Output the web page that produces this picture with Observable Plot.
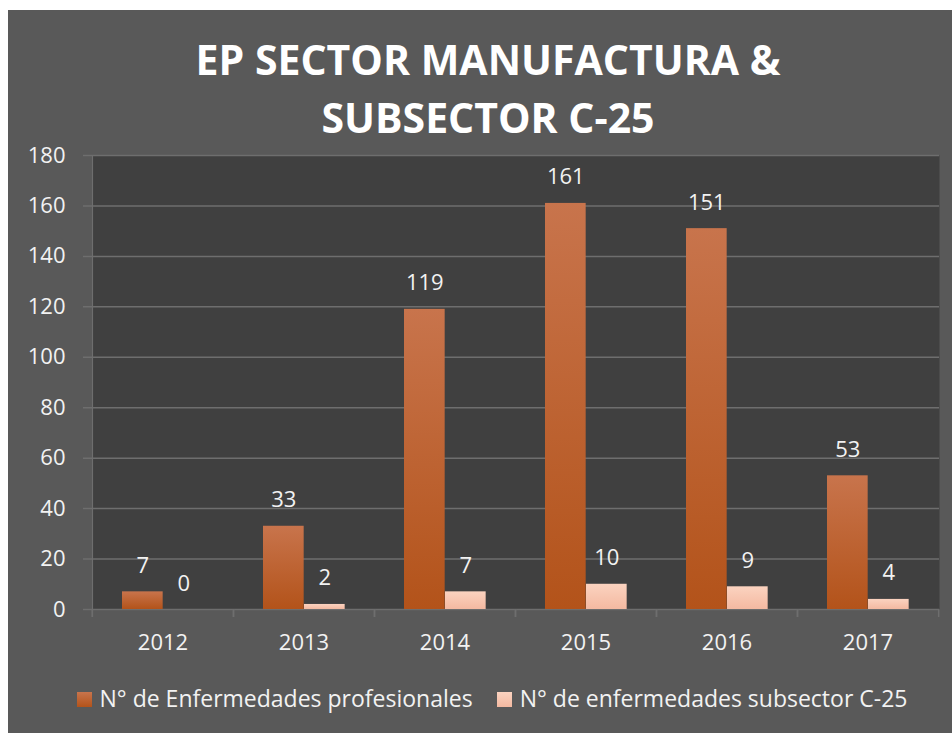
<!DOCTYPE html>
<html>
<head>
<meta charset="utf-8">
<script src="https://cdn.jsdelivr.net/npm/d3@7"></script>
<script src="https://cdn.jsdelivr.net/npm/@observablehq/plot@0.6"></script>
<style>
  html, body { margin: 0; padding: 0; background: #ffffff; }
  #card { position: absolute; left: 8px; top: 10px; width: 944px; height: 723px; background: #595959; font-family: "Open Sans", sans-serif; color: #f2f2f2; overflow: hidden; }
  #title { position: absolute; left: 8px; top: 20px; width: 944px; text-align: center; font-weight: bold; font-size: 41px; line-height: 58px; color: #ffffff; }
  #chart { position: absolute; left: 0; top: 130px; }
  #legend { position: absolute; left: 12px; top: 673px; width: 944px; display: flex; justify-content: center; align-items: center; font-size: 23px; line-height: 30px; color: #f2f2f2; }
  .item { display: flex; align-items: center; margin: 0 12px; }
  .sw { width: 15px; height: 15px; margin-right: 8px; margin-top: 3px; }
</style>
</head>
<body>
<div id="card">
  <div id="title">EP SECTOR MANUFACTURA &amp;<br>SUBSECTOR C-25</div>
  <div id="chart"></div>
  <div id="legend"></div>
</div>
<script>
const years = ["2012", "2013", "2014", "2015", "2016", "2017"];
const enfermedades = [7, 33, 119, 161, 151, 53];
const subsector = [0, 2, 7, 10, 9, 4];
const seriesNames = ["N° de Enfermedades profesionales", "N° de enfermedades subsector C-25"];
const yTicks = [0, 20, 40, 60, 80, 100, 120, 140, 160, 180];

const data = years.map((y, i) => ({year: y, a: enfermedades[i], b: subsector[i]}));

const W = 944, H = 530, mL = 83, mR = 13, mT = 15, mB = 61;
const bw = (W - mL - mR) / years.length;
const barW = 41, padL = 30;
const grid = "#6e6e6e";
const fs = 22;

const plot = Plot.plot({
  width: W, height: H,
  marginLeft: mL, marginRight: mR, marginTop: mT, marginBottom: mB,
  style: {background: "transparent", fontFamily: "'Open Sans', sans-serif", fontSize: fs + "px", color: "#f2f2f2", overflow: "visible"},
  x: {type: "band", domain: years, padding: 0, label: null},
  y: {domain: [0, 180], ticks: yTicks, label: null},
  marks: [
    Plot.frame({fill: "#404040", stroke: null}),
    Plot.ruleY(yTicks, {stroke: grid, strokeWidth: 1.5, insetLeft: -8}),
    Plot.ruleX([years[0]], {dx: -bw / 2, stroke: grid, strokeWidth: 1.5, insetBottom: -8}),
    Plot.axisX({tickSize: 8, tickFormat: () => "", dx: -bw / 2, stroke: grid, strokeWidth: 1.5, label: null}),
    Plot.axisX({tickSize: 8, tickFormat: () => "", dx: bw / 2, stroke: grid, strokeWidth: 1.5, label: null}),
    Plot.axisX({tickSize: 0, tickPadding: 25, fill: "#f2f2f2", fontSize: fs, label: null}),
    Plot.axisY({ticks: yTicks, tickSize: 0, tickPadding: 26, fill: "#f2f2f2", fontSize: fs, label: null}),
    Plot.barY(data, {x: "year", y: "a", fill: "url(#gOrange)", insetLeft: padL, insetRight: bw - padL - barW, style: "filter: drop-shadow(3px 2px 3px rgba(0,0,0,0.45))"}),
    Plot.barY(data, {x: "year", y: "b", fill: "url(#gPink)", insetLeft: padL + barW, insetRight: bw - padL - 2 * barW}),
    Plot.text(data, {x: "year", y: "a", text: d => String(d.a), dx: padL + barW / 2 - bw / 2, dy: -19, lineAnchor: "bottom", fill: "#f2f2f2", fontSize: fs}),
    Plot.text(data, {x: "year", y: "b", text: d => String(d.b), dx: padL + barW * 1.5 - bw / 2, dy: -19, lineAnchor: "bottom", fill: "#f2f2f2", fontSize: fs})
  ]
});

// gradients
const ns = "http://www.w3.org/2000/svg";
const defs = document.createElementNS(ns, "defs");
defs.innerHTML = `
  <linearGradient id="gOrange" x1="0" y1="0" x2="0" y2="1">
    <stop offset="0" stop-color="#c8744c"/>
    <stop offset="1" stop-color="#b3531a"/>
  </linearGradient>
  <linearGradient id="gPink" x1="0" y1="0" x2="0" y2="1">
    <stop offset="0" stop-color="#fbd3c0"/>
    <stop offset="1" stop-color="#f4b9a1"/>
  </linearGradient>`;
plot.insertBefore(defs, plot.firstChild);
document.getElementById("chart").appendChild(plot);

// legend
const legend = document.getElementById("legend");
const swFills = ["linear-gradient(#c8744c, #b3531a)", "linear-gradient(#fbd3c0, #f4b9a1)"];
seriesNames.forEach((name, i) => {
  const item = document.createElement("div");
  item.className = "item";
  const sw = document.createElement("div");
  sw.className = "sw";
  sw.style.background = swFills[i];
  const label = document.createElement("span");
  label.textContent = name;
  item.appendChild(sw);
  item.appendChild(label);
  legend.appendChild(item);
});
</script>
</body>
</html>
